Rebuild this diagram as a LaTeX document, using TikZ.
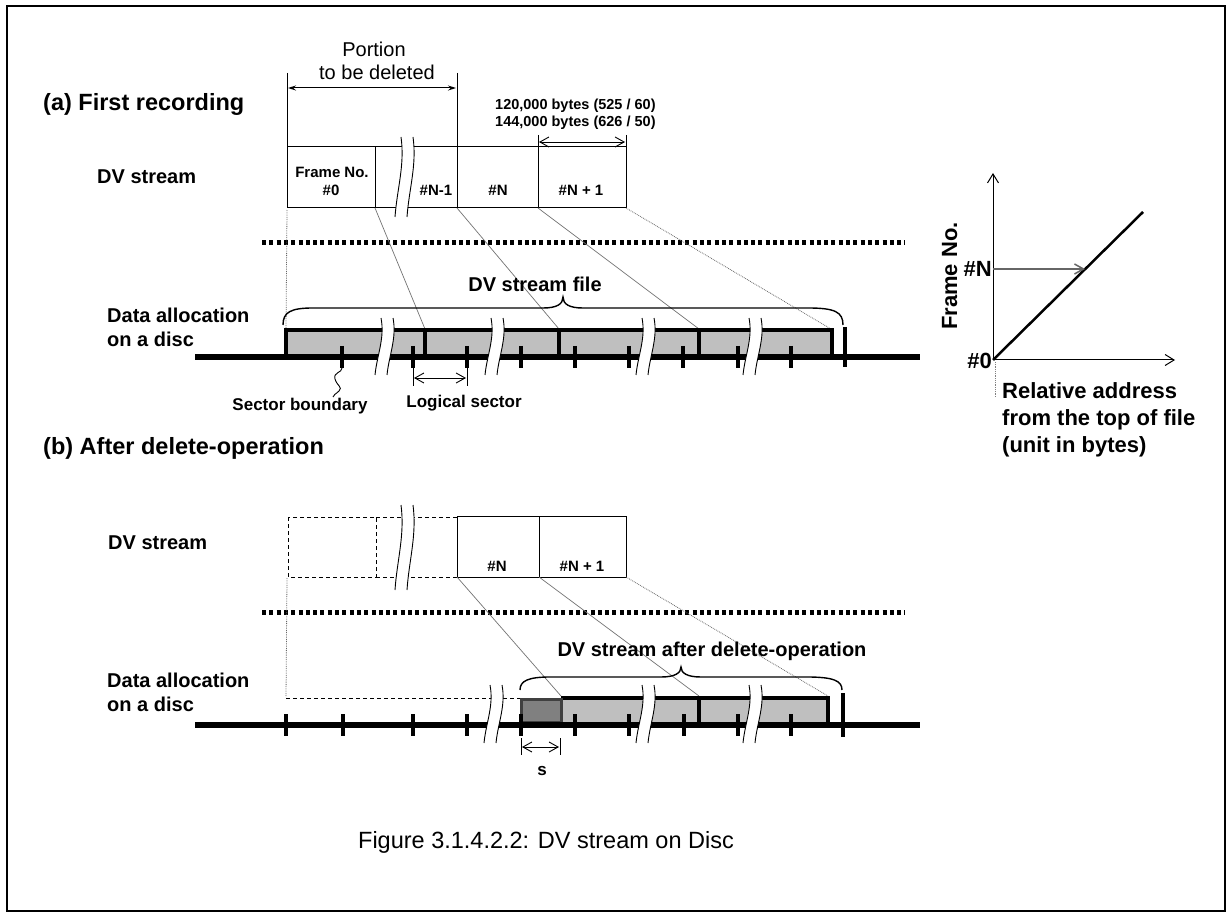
\documentclass[tikz,border=0pt]{standalone}
\usepackage{fontspec}
\setmainfont{Liberation Sans}
\usetikzlibrary{arrows.meta}
\newcommand\myfs[1]{\fontsize{#1}{#1}\selectfont}
\newcommand\wbrk[4]{%
  \pgfmathsetmacro\wka{#1-#4}\pgfmathsetmacro\wkb{#1+#4}%
  \pgfmathsetmacro\wkh{#3-#2}%
  \pgfmathsetmacro\wku{#2+0.35*\wkh}\pgfmathsetmacro\wkv{#2+0.65*\wkh}%
  \fill[white] (\wka+3,#2) .. controls (\wka+7,\wku) and (\wka-1,\wkv) .. (\wka-3,#3) -- (\wkb-3,#3) .. controls (\wkb-1,\wkv) and (\wkb+7,\wku) .. (\wkb+3,#2) -- cycle;
  \draw[line width=0.9] (\wka+3,#2) .. controls (\wka+7,\wku) and (\wka-1,\wkv) .. (\wka-3,#3);
  \draw[line width=0.9] (\wkb+3,#2) .. controls (\wkb+7,\wku) and (\wkb-1,\wkv) .. (\wkb-3,#3);
}
\newcommand\mybrace[6]{% x1, x2, xm, ytop, yend, ytip
  \draw[brc] (#1,#5) .. controls (#1,#4+4) and (#1+8,#4) .. (#1+30,#4) -- (#3-20,#4)
    .. controls (#3-6,#4) and (#3,#4-4) .. (#3,#6)
    .. controls (#3,#4-4) and (#3+6,#4) .. (#3+20,#4) -- (#2-35,#4)
    .. controls (#2-8,#4) and (#2,#4+4) .. (#2,#5);
}
\begin{document}
\begin{tikzpicture}[x=1pt,y=-1pt,
  hdr/.style={font=\bfseries\myfs{23.5}, inner sep=0pt, anchor=base west},
  lab/.style={font=\bfseries\myfs{20}, inner sep=0pt, anchor=base},
  labw/.style={font=\bfseries\myfs{20}, inner sep=0pt, anchor=base west},
  flab/.style={font=\bfseries\myfs{15}, inner sep=0pt, anchor=base},
  blab/.style={font=\bfseries\myfs{14.5}, inner sep=0pt, anchor=base west},
  slab/.style={font=\bfseries\myfs{17}, inner sep=0pt, anchor=base},
  glab/.style={font=\bfseries\myfs{22}, inner sep=0pt},
  capt/.style={font=\myfs{23.5}, inner sep=0pt, anchor=base},
  frm/.style={line width=1},
  dfrm/.style={line width=1, dash pattern=on 4pt off 3pt},
  conn/.style={draw=black!55, line width=0.7},
  dconn/.style={draw=black!60, line width=0.8, densely dotted},
  sepl/.style={line width=5, dash pattern=on 4pt off 3.3pt},
  baseln/.style={line width=6},
  tck/.style={line width=4},
  blk/.style={fill=gray!50},
  blkedge/.style={line width=3.5},
  openarr/.style={line width=0.9, {Straight Barb[length=9pt,width=10pt]}-{Straight Barb[length=9pt,width=10pt]}},
  solarr/.style={line width=1, {Stealth[length=8pt,width=5pt]}-{Stealth[length=8pt,width=5pt]}},
  brc/.style={line width=1.4}
]
\useasboundingbox (0,0) rectangle (1232,917);
\draw[line width=2] (7,6) rectangle (1225,911);

% ---------------- (a) ----------------
\node[hdr] (ha) at (43,111) {(a) First recording};
\node[labw] (dva) at (97,184) {DV stream};
\node[labw] (daa1) at (107,323) {Data allocation};
\node[labw] (daa2) at (107,347) {on a disc};

% portion to be deleted
\node[font=\myfs{20}, inner sep=0pt, anchor=base] (por1) at (374,57) {Portion};
\node[font=\myfs{20}, inner sep=0pt, anchor=base] (por2) at (377,80) {to be deleted};
\coordinate (pl) at (287,73); \coordinate (pr) at (457,73);
\draw[frm] (pl) -- (287,147);
\draw[frm] (pr) -- (457,147);
\draw[solarr] (288,88) -- (456,88);

% bytes
\node[blab] (by1) at (495,110) {120,000 bytes (525 / 60)};
\node[blab] (by2) at (495,127) {144,000 bytes (626 / 50)};
\draw[frm] (538,135) -- (538,147);
\draw[frm] (626,135) -- (626,147);
\draw[openarr] (539,142) -- (625,142);

% frame row
\draw[frm] (287,147) rectangle (626,208);
\foreach \x in {375,457,538} \draw[frm] (\x,147) -- (\x,208);
\wbrk{404}{137}{217}{6}
\node[flab] (fn) at (332,178) {Frame No.};
\node[flab] (f0) at (331,196) {\#0};
\node[flab] (fn1) at (436,196) {\#N-1};
\node[flab] (fnn) at (498,196) {\#N};
\node[flab] (fnp) at (581,196) {\#N + 1};

% separator
\draw[sepl] (262,243) -- (905,243);

% connectors
\coordinate (fa0) at (287,210); \coordinate (ba0) at (286,329);
\coordinate (fa1) at (375,208); \coordinate (ba1) at (425,329);
\coordinate (fa2) at (457,208); \coordinate (ba2) at (559,329);
\coordinate (fa3) at (538,208); \coordinate (ba3) at (699,329);
\coordinate (fa4) at (626,208); \coordinate (ba4) at (831,329);
\draw[dconn] (fa0) -- (ba0);
\draw[conn] (fa1) -- (ba1);
\draw[conn] (fa2) -- (ba2);
\draw[conn] (fa3) -- (ba3);
\draw[dconn] (fa4) -- (ba4);

% brace
\node[lab] (dvf) at (535,292) {DV stream file};
\mybrace{283}{843}{563}{308}{325}{297}

% blocks
\fill[blk] (286,330) rectangle (832,356);
\draw[blkedge] (286,356) -- (286,330) -- (832,330) -- (832,356);
\foreach \x in {425,559,699} \draw[tck] (\x,330) -- (\x,356);
\draw[baseln] (195,357) -- (920,357);
\foreach \x in {342,413,467,521,575,629,683,738,791} \draw[tck] (\x,346) -- (\x,368);
\draw[tck] (845,327) -- (845,367);
\wbrk{384}{318}{375}{6}
\wbrk{494}{318}{375}{6}
\wbrk{645}{318}{375}{6}
\wbrk{752}{318}{375}{6}

% sector boundary
\node[slab] (sb) at (300,410) {Sector boundary};
\draw[line width=0.9] (342,368) .. controls (342,373) and (333,372) .. (335,379)
  .. controls (337,386) and (343,387) .. (339,391) .. controls (336,394) and (333,395) .. (333,397);
% logical sector
\draw[frm] (413,367) -- (413,386);
\draw[frm] (467,367) -- (467,386);
\draw[openarr] (414,378) -- (466,378);
\node[slab] (ls) at (464,407) {Logical sector};

% ---------------- (b) ----------------
\node[hdr] (hb) at (43,454) {(b) After delete-operation};
\node[labw] (dvb) at (108,549) {DV stream};
\node[labw] (dab1) at (107,687) {Data allocation};
\node[labw] (dab2) at (107,711) {on a disc};

\draw[dfrm] (288,517) rectangle (376,577);
\draw[dfrm] (376,517) -- (457,517);
\draw[dfrm] (376,577) -- (457,577);
\draw[frm] (457,516) rectangle (626,577);
\draw[frm] (539,516) -- (539,577);
\wbrk{404}{505}{590}{6}
\node[flab] (gnn) at (497,571) {\#N};
\node[flab] (gnp) at (582,571) {\#N + 1};

\draw[sepl] (262,612) -- (905,612);

\coordinate (fb0) at (287,578); \coordinate (bb0) at (286,697);
\coordinate (fb2) at (457,577); \coordinate (bb2) at (561,696);
\coordinate (fb3) at (539,577); \coordinate (bb3) at (699,696);
\coordinate (fb4) at (626,577); \coordinate (bb4) at (828,696);
\draw[dconn] (fb0) -- (bb0);
\draw[conn] (fb2) -- (bb2);
\draw[conn] (fb3) -- (bb3);
\draw[dconn] (fb4) -- (bb4);

\node[lab] (dva2) at (712,656) {DV stream after delete-operation};
\mybrace{520}{842}{681}{677}{690}{667}

\draw[line width=1, dash pattern=on 4pt off 3pt] (286,698) -- (520,698);
\fill[blk] (561,698) rectangle (828,724);
\draw[blkedge] (561,698) -- (828,698) -- (828,724);
\draw[tck] (699,698) -- (699,724);
\draw[fill=gray, draw=black!75, line width=3] (521,699) rectangle (561,722);
\draw[baseln] (195,725) -- (920,725);
\foreach \x in {286,343,413,467,521,575,629,684,738,791} \draw[tck] (\x,714) -- (\x,736);
\draw[tck] (843,693) -- (843,737);
\wbrk{493}{685}{743}{6}
\wbrk{645}{685}{743}{6}
\wbrk{752}{685}{743}{6}

\draw[frm] (521,738) -- (521,755);
\draw[frm] (560,738) -- (560,755);
\draw[openarr] (522,747) -- (559,747);
\node[slab] (sl) at (542,775) {s};

% ---------------- chart ----------------
\coordinate (o) at (993,360);
\coordinate (ytop) at (993,173);
\coordinate (xend) at (1175,360);
\coordinate (dend) at (1143,212);
\coordinate (nl) at (993,269);
\coordinate (nr) at (1085,269);
\draw[line width=1, -{Straight Barb[length=9pt,width=11pt]}] (o) -- (ytop);
\draw[line width=1, -{Straight Barb[length=9pt,width=11pt]}] (o) -- (xend);
\draw[line width=2.5] (o) -- (dend);
\draw[draw=black!60, line width=1.5, -{Straight Barb[length=9pt,width=10pt]}] (nl) -- (nr);
\draw[black!50, densely dotted, line width=0.8] (995,362) -- (995,397);
\node[glab, anchor=base east] (gN) at (992,277) {\#N};
\node[glab, anchor=base east] (g0) at (992,369) {\#0};
\node[glab, anchor=base west, rotate=90] (gfn) at (957,330) {Frame No.};
\node[glab, anchor=base west] (ra1) at (1002,398) {Relative address};
\node[glab, anchor=base west] (ra2) at (1002,425) {from the top of file};
\node[glab, anchor=base west] (ra3) at (1002,452) {(unit in bytes)};

% caption
\node[capt] (cap) at (546,848) {Figure 3.1.4.2.2: DV stream on Disc};
\end{tikzpicture}
\end{document}
